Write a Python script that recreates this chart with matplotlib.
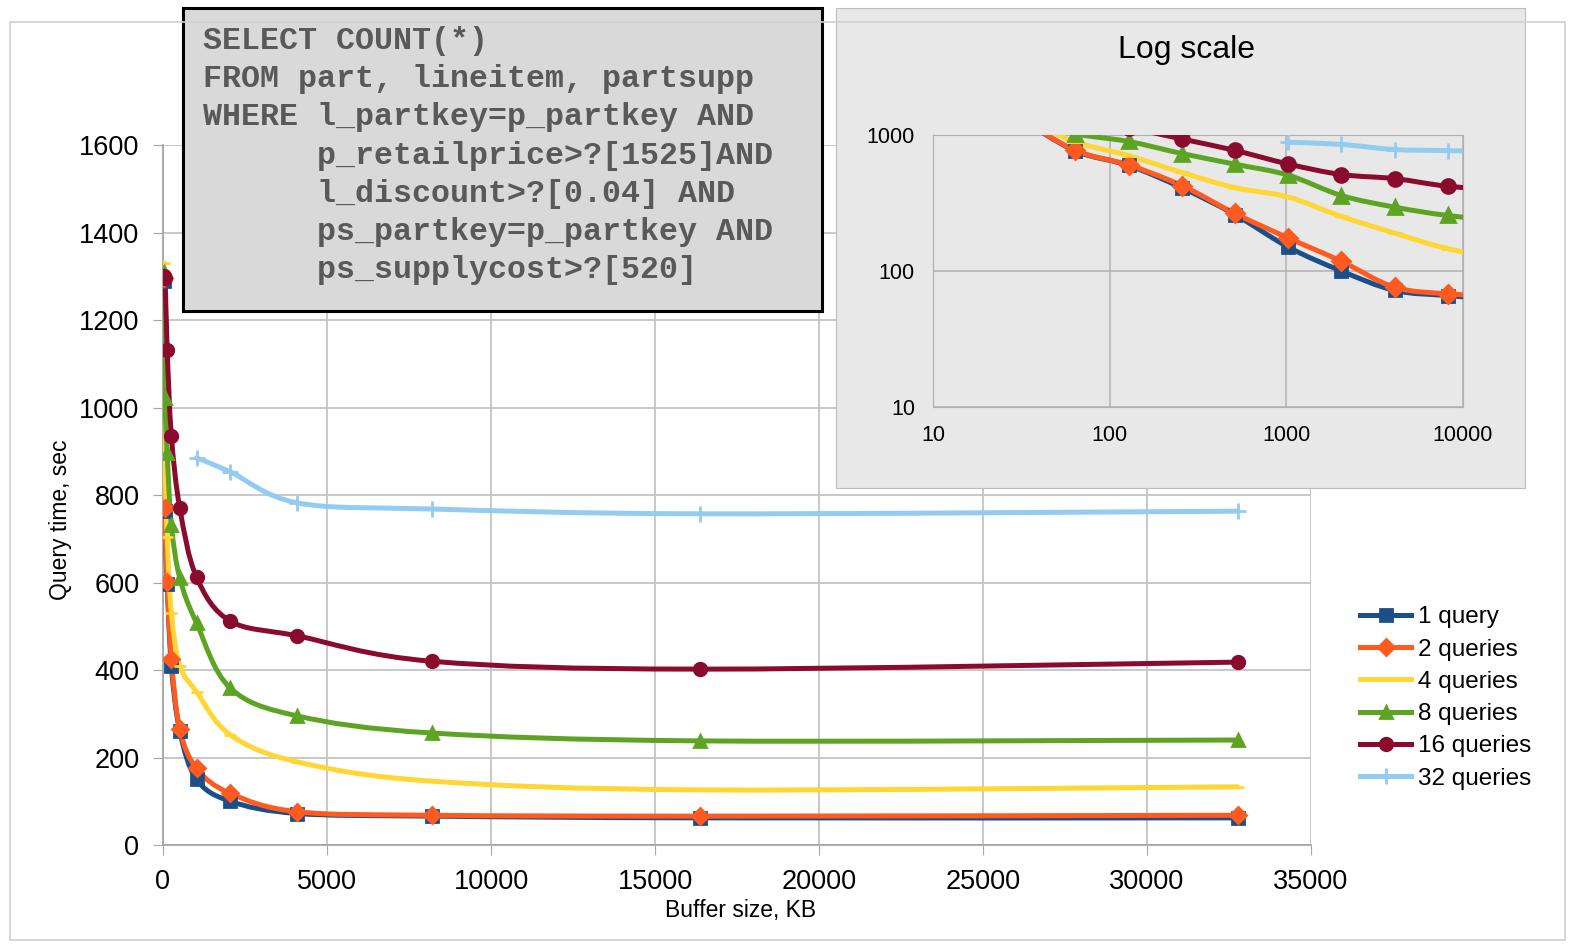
import numpy as np
import matplotlib
matplotlib.use('Agg')
import matplotlib.pyplot as plt
from matplotlib.path import Path
from matplotlib.patches import PathPatch, Rectangle
from matplotlib.lines import Line2D

plt.rcParams['font.family'] = ['Liberation Sans', 'DejaVu Sans']

# buffer size, KB
buf = [32, 64, 128, 256, 512, 1024, 2048, 4096, 8192, 16384, 32768]
buf32 = [1024, 2048, 4096, 8192, 16384, 32768]

# query time, sec
q1  = [1290, 763, 597, 409, 260, 150, 100, 72, 66, 62, 62]
q2  = [1295, 770, 602, 425, 265, 175, 118, 76, 68, 66, 68]
q4  = [1330, 890, 705, 530, 410, 350, 252, 190, 146, 126, 133]
q8  = [1310, 1022, 896, 731, 610, 507, 359, 295, 256, 238, 240]
q16 = [1300, 1296, 1131, 935, 770, 612, 512, 478, 420, 402, 418]
q32 = [885, 853, 782, 768, 757, 763]

labels  = ['1 query', '2 queries', '4 queries', '8 queries', '16 queries', '32 queries']
colors  = ['#1b4f8a', '#ff5a1f', '#ffd633', '#5ea424', '#8b0b2e', '#93cbf1']
markers = ['s', 'D', '_', '^', 'o', '+']
msizes  = [8, 8, 9, 9, 9, 11]

series = [(buf, q1), (buf, q2), (buf, q4), (buf, q8), (buf, q16), (buf32, q32)]


def smooth(x, y, logspace=False):
    # catmull-rom style smoothing, like excel's smoothed line
    x = np.asarray(x, float)
    y = np.asarray(y, float)
    if logspace:
        x = np.log10(x)
        y = np.log10(y)
    P = np.column_stack([x, y])
    n = len(P)
    verts = [P[0]]
    codes = [Path.MOVETO]
    for i in range(n - 1):
        a = P[i - 1] if i > 0 else P[i]
        d = P[i + 2] if i + 2 < n else P[i + 1]
        c1 = P[i] + (P[i + 1] - a) / 6.0
        c2 = P[i + 1] - (d - P[i]) / 6.0
        verts += [c1, c2, P[i + 1]]
        codes += [Path.CURVE4] * 3
    verts = np.array(verts)
    if logspace:
        verts = 10 ** verts
    return Path(verts, codes)


W, H = 1575, 948
fig = plt.figure(figsize=(W / 100, H / 100), dpi=100)

def box(l, t, r, b):
    return [l / W, 1 - b / H, (r - l) / W, (b - t) / H]

# chart border
fig.patches.append(Rectangle((10 / W, 1 - 940 / H), 1555 / W, 918 / H, fill=False,
                             edgecolor='#d0d0d0', lw=1.2, transform=fig.transFigure))

# ---- main chart ----
ax = fig.add_axes(box(163, 145, 1311, 845))
ax.set_xlim(0, 35000)
ax.set_ylim(0, 1600)
ax.set_xticks(np.arange(0, 35001, 5000))
ax.set_yticks(np.arange(0, 1601, 200))
ax.grid(True, color='#c4c4c4', lw=1.3)
ax.set_axisbelow(True)
for s in ['top', 'right']:
    ax.spines[s].set_visible(False)
for s in ['left', 'bottom']:
    ax.spines[s].set_color('#a6a6a6')
    ax.spines[s].set_linewidth(1.3)
ax.tick_params(labelsize=19.5, direction='out', length=7, color='#a6a6a6', pad=10)

for (x, y), c, m, ms in zip(series, colors, markers, msizes):
    ax.add_patch(PathPatch(smooth(x, y), fill=False, edgecolor=c, lw=3.6,
                           capstyle='round', joinstyle='round', zorder=3))
    ax.plot(x, y, ls='none', marker=m, ms=ms, color=c, mec=c, mew=2, zorder=4)

fig.text(741 / W, 1 - 910 / H, 'Buffer size, KB', ha='center', va='center', fontsize=16.5)
fig.text(60 / W, 1 - 520 / H, 'Query time, sec', ha='center', va='center',
         rotation=90, fontsize=16.5)

handles = [Line2D([], [], color=c, lw=3.6, marker=m, ms=ms, mec=c, mew=2)
           for c, m, ms in zip(colors, markers, msizes)]
fig.legend(handles, labels, loc='center left', bbox_to_anchor=(1360 / W, 1 - 698 / H),
           frameon=False, fontsize=17.5, handlelength=2.1, handletextpad=0.3,
           labelspacing=0.42, borderpad=0, borderaxespad=0)

# ---- SQL box ----
sq = fig.add_axes(box(183, 8, 822, 311))
sq.set_facecolor('#d9d9d9')
sq.set_xticks([])
sq.set_yticks([])
for s in sq.spines.values():
    s.set_color('black')
    s.set_linewidth(2.2)
sql = ['SELECT COUNT(*)',
       'FROM part, lineitem, partsupp',
       'WHERE l_partkey=p_partkey AND',
       '      p_retailprice>?[1525]AND',
       '      l_discount>?[0.04] AND',
       '      ps_partkey=p_partkey AND',
       '      ps_supplycost>?[520]']
for i, line in enumerate(sql):
    sq.text(20 / 639, 1 - (33 + i * 38.2) / 303, line, transform=sq.transAxes,
            family='Liberation Mono', weight='bold', fontsize=22.8, color='#595959',
            ha='left', va='center')

# ---- log scale inset ----
pan = fig.add_axes(box(836, 8, 1525, 488))
pan.set_facecolor('#e8e8e8')
pan.set_xticks([])
pan.set_yticks([])
for s in pan.spines.values():
    s.set_color('#bdbdbd')
pan.text(0.509, 1 - 42 / 480, 'Log scale', transform=pan.transAxes, ha='center',
         va='center', fontsize=23)

ins = fig.add_axes(box(933, 135, 1463, 407))
ins.set_facecolor('#e8e8e8')
ins.set_xscale('log')
ins.set_yscale('log')
ins.set_xlim(10, 10000)
ins.set_ylim(10, 1000)
ins.set_xticks([10, 100, 1000, 10000])
ins.set_yticks([10, 100, 1000])
ins.set_xticklabels(['10', '100', '1000', '10000'])
ins.set_yticklabels(['10', '100', '1000'])
ins.minorticks_off()
ins.grid(True, color='#b0b0b0', lw=1.1)
ins.set_axisbelow(True)
for s in ins.spines.values():
    s.set_color('#b0b0b0')
ins.tick_params(labelsize=15.5, length=0, pad=13)

for (x, y), c, m, ms in zip(series, colors, markers, msizes):
    ins.add_patch(PathPatch(smooth(x, y, logspace=True), fill=False, edgecolor=c, lw=3.6,
                            capstyle='round', joinstyle='round', zorder=3))
    ins.plot(x, y, ls='none', marker=m, ms=ms + 1, color=c, mec=c, mew=2, zorder=4)

fig.savefig('out.png', dpi=100)
